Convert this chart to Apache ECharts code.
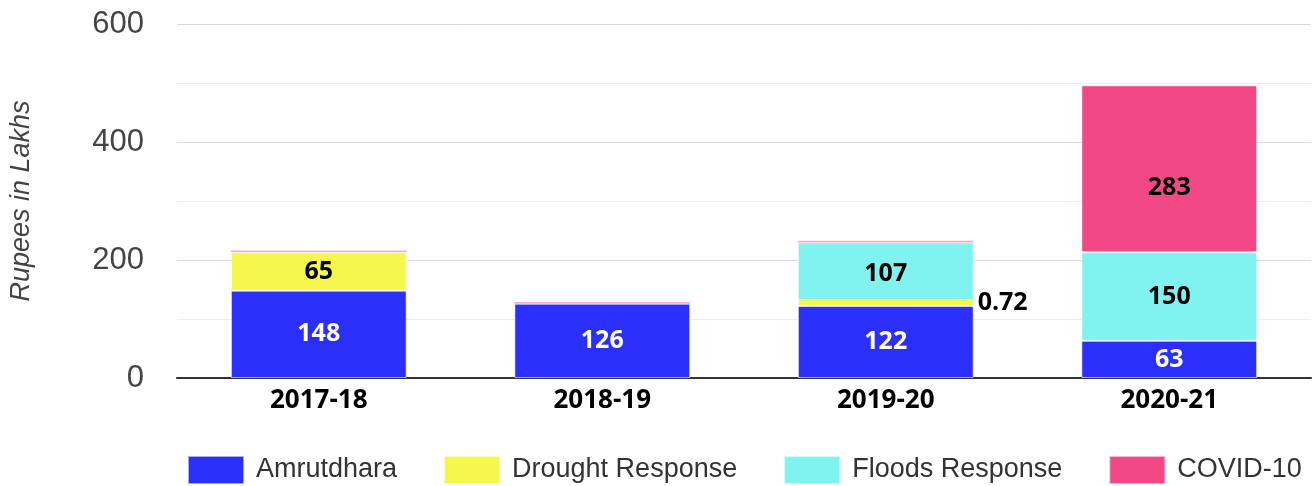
<!DOCTYPE html>
<html>
<head>
<meta charset="utf-8">
<script src="https://cdn.jsdelivr.net/npm/echarts@6/dist/echarts.min.js"></script>
<style>html,body{margin:0;padding:0;background:#fff}#c{width:1314px;height:486px}</style>
</head>
<body>
<div id="c"></div>
<script>
const categories = ['2017-18', '2018-19', '2019-20', '2020-21'];
const amrutdhara = [148, 126, 122, 63];
const drought = [65, '-', 0.72, '-'];
const floods = ['-', '-', 107, 150];
const covid = [3, 3, 3, 283];
const yTicks = [0, 200, 400, 600];

const names = ['Amrutdhara', 'Drought Response', 'Floods Response', 'COVID-10'];
const colors = ['#2b2ffc', '#f5f74d', '#80f2f0', '#f24886'];
const labelColors = ['#ffffff', '#000000', '#000000', '#000000'];
const labelOffsets = [[0, 0], [0, 0], [0, 0], [0, 19]];
const seriesData = [amrutdhara, drought, floods, covid];

const chart = echarts.init(document.getElementById('c'));
const series = seriesData.map((arr, i) => ({
  name: names[i],
  type: 'bar',
  stack: 'total',
  barWidth: '62%',
  barMinHeight: i === 1 ? 7 : 0,
  z: i === 1 ? 3 : 2,
  itemStyle: { color: colors[i], borderColor: 'rgba(255,255,255,0.6)', borderWidth: 1 },
  label: {
    show: true,
    position: 'inside',
    offset: labelOffsets[i],
    color: labelColors[i],
    fontFamily: 'Open Sans',
    fontWeight: 'bold',
    fontSize: 25
  },
  data: arr.map(v => {
    if (v === '-') return '-';
    if (i === 3 && v < 10) return { value: v, label: { show: false }, itemStyle: { opacity: 0.45, borderWidth: 0 } };
    if (v < 5) return { value: v, label: { position: 'right', distance: 4 } };
    return v;
  })
}));

chart.setOption({
  animation: false,
  grid: { left: 175, right: 3, top: 24, bottom: 108 },
  legend: {
    top: 455,
    left: 187,
    padding: 0,
    itemWidth: 56,
    itemHeight: 28,
    itemGap: 46,
    icon: 'rect',
    textStyle: { fontFamily: 'Liberation Sans', fontSize: 27, color: '#333', padding: [0, 0, 0, 7] },
    data: names
  },
  xAxis: {
    type: 'category',
    data: categories,
    axisTick: { show: false },
    axisLine: { lineStyle: { color: '#333', width: 2 } },
    axisLabel: { color: '#000', fontFamily: 'Open Sans', fontWeight: 'bold', fontSize: 26, margin: 10 }
  },
  yAxis: {
    type: 'value',
    min: yTicks[0],
    max: yTicks[yTicks.length - 1],
    interval: 200,
    name: 'Rupees in Lakhs',
    nameLocation: 'middle',
    nameGap: 142,
    nameTextStyle: { fontFamily: 'Liberation Sans', fontStyle: 'italic', fontSize: 27, color: '#444' },
    axisLine: { show: false },
    axisTick: { show: false },
    axisLabel: { color: '#444', fontFamily: 'Liberation Sans', fontSize: 31, margin: 33 },
    splitLine: { lineStyle: { color: '#d9d9d9', width: 1 } },
    minorTick: { show: false, splitNumber: 2 },
    minorSplitLine: { show: true, lineStyle: { color: '#ececec', width: 1 } }
  },
  series: series
});
</script>
</body>
</html>
